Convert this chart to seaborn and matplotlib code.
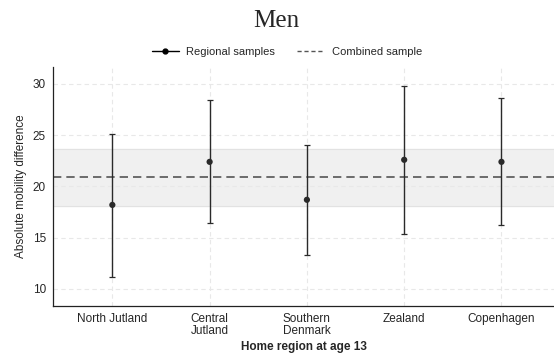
import matplotlib
matplotlib.use("Agg")
import matplotlib.pyplot as plt
import seaborn as sns
import pandas as pd
from matplotlib.lines import Line2D

# data
regions = ["North Jutland", "Central\nJutland", "Southern\nDenmark", "Zealand", "Copenhagen"]
estimate = [18.2, 22.4, 18.7, 22.6, 22.4]
ci_low = [11.2, 16.4, 13.35, 15.4, 16.25]
ci_high = [25.15, 28.4, 24.0, 29.8, 28.6]
combined = 20.88
combined_low = 18.12
combined_high = 23.64

df = pd.DataFrame({"region": regions, "est": estimate, "lo": ci_low, "hi": ci_high})
df["pos"] = range(len(df))

sns.set_style("white")
plt.rcParams["font.family"] = ["Liberation Sans", "DejaVu Sans"]

fig = plt.figure(figsize=(5.54, 3.58), dpi=100)
ax = fig.add_axes([53 / 554, 1 - 305.7 / 358, 1 - 53 / 554, (305.7 - 67) / 358])

# combined sample band + line
ax.axhspan(combined_low, combined_high, color="#f0f0f0", zorder=0)
ax.axhline(combined_low, color="#e2e2e2", lw=0.8, zorder=0.5)
ax.axhline(combined_high, color="#e2e2e2", lw=0.8, zorder=0.5)
ax.axhline(combined, color="#555555", lw=1.2, ls=(0, (5, 3)), zorder=2)

# regional estimates
ax.errorbar(df["pos"], df["est"],
            yerr=[df["est"] - df["lo"], df["hi"] - df["est"]],
            fmt="none", ecolor="#2a2a2a", elinewidth=1.0, capsize=2.2, capthick=0.9, zorder=3)
sns.scatterplot(data=df, x="pos", y="est", ax=ax, color="#2a2a2a", s=20,
                edgecolor="none", zorder=4, legend=False)

ax.set_xlim(-0.61, 4.54)
ax.set_ylim(8.37, 31.65)
ax.set_yticks([10, 15, 20, 25, 30])
ax.set_xticks(df["pos"])
ax.set_xticklabels(regions, linespacing=1.05)
ax.tick_params(axis="both", labelsize=8.5, length=3, width=0.8, color="#222222", pad=2)
ax.grid(True, ls=(0, (4, 3)), color="#e8e8e8", lw=0.8)
ax.set_axisbelow(True)

sns.despine(ax=ax)
for s in ["left", "bottom"]:
    ax.spines[s].set_color("#222222")
    ax.spines[s].set_linewidth(0.9)

ax.set_xlabel("Home region at age 13", fontsize=8.5, fontweight="bold", labelpad=3)
ax.set_ylabel("Absolute mobility difference", fontsize=8.5, labelpad=4)

handles = [
    Line2D([], [], color="black", lw=1, marker="o", markersize=3.5),
    Line2D([], [], color="#555555", lw=1, ls=(0, (3, 2))),
]
fig.legend(handles, ["Regional samples", "Combined sample"], loc="center",
           bbox_to_anchor=(287 / 554, 1 - 52 / 358), ncol=2, frameon=False,
           fontsize=8, handlelength=2.4, columnspacing=2.0, handletextpad=0.7)

fig.text(276 / 554, 1 - 21 / 358, "Men", ha="center", va="center", fontsize=18,
         family=["Liberation Serif", "DejaVu Serif"])

fig.savefig("out.png", dpi=100)
